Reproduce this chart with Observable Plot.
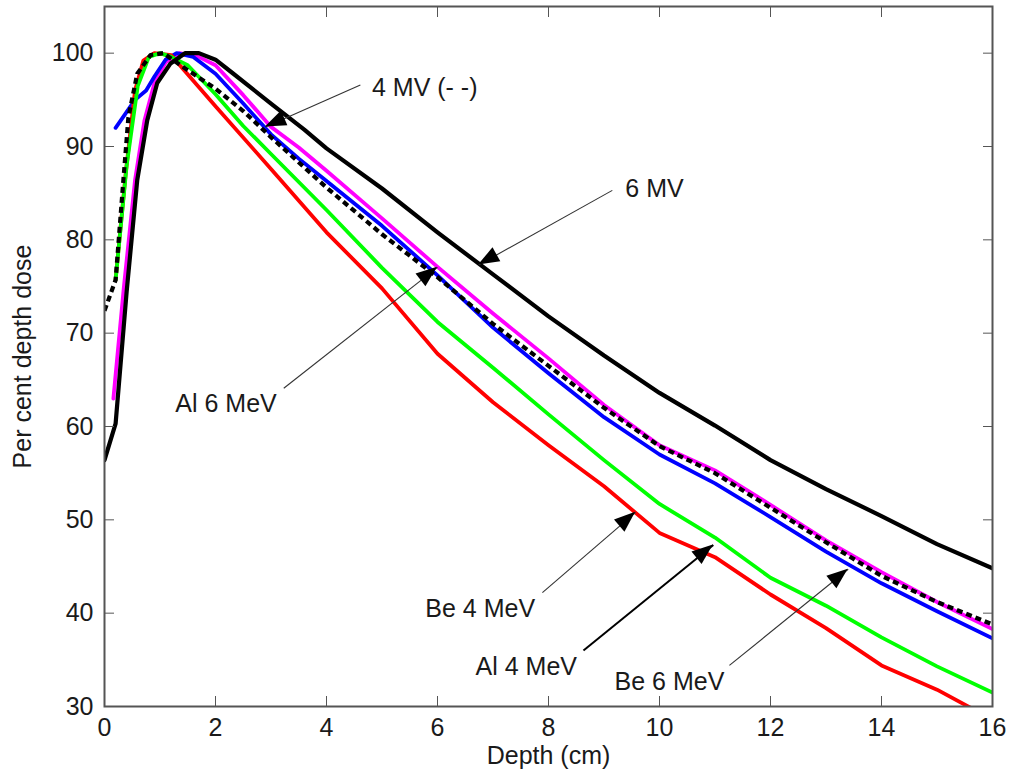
<!DOCTYPE html>
<html>
<head>
<meta charset="utf-8">
<script src="https://cdn.jsdelivr.net/npm/d3@7"></script>
<script src="https://cdn.jsdelivr.net/npm/@observablehq/plot@0.6"></script>
<style>
  body { margin: 0; background: #fff; }
  #chart { width: 1013px; height: 780px; }
</style>
</head>
<body>
<div id="chart"></div>
<script>
// ---- Data ----
const xTicks = [0, 2, 4, 6, 8, 10, 12, 14, 16];
const yTicks = [30, 40, 50, 60, 70, 80, 90, 100];

// Be 4 MeV (red)
const be4Depth = [0.2, 0.38, 0.55, 0.7, 0.9, 1.2, 1.4, 2, 3, 4, 5, 6, 7, 8, 9, 10, 11, 12, 13, 14, 15, 16];
const be4Dose  = [75.7, 87, 96, 99.2, 100, 99.8, 98.4, 94.3, 87.6, 80.8, 74.8, 67.8, 62.6, 58.0, 53.6, 48.6, 46.0, 42.0, 38.4, 34.4, 31.8, 28.6];

// Al 4 MeV (green)
const al4Depth = [0.2, 0.4, 0.6, 0.8, 1.0, 1.2, 1.5, 2, 2.5, 3, 4, 5, 6, 7, 8, 9, 10, 11, 12, 13, 14, 15, 16];
const al4Dose  = [75.7, 88, 96.5, 99.6, 100, 99.6, 98.7, 95.6, 92.2, 89.2, 83.2, 77.0, 71.2, 66.3, 61.3, 56.4, 51.7, 48.1, 43.8, 40.8, 37.4, 34.3, 31.5];

// Be 6 MeV (blue)
const be6Depth = [0.2, 0.55, 0.75, 0.9, 1.1, 1.3, 1.6, 2, 2.5, 3, 3.5, 4, 5, 6, 7, 8, 9, 10, 11, 12, 13, 14, 15, 16];
const be6Dose  = [92, 95, 96, 97.5, 99.3, 100, 99.6, 97.8, 94.6, 91.3, 88.7, 86.3, 81.5, 76.2, 70.6, 65.7, 61.0, 57.0, 53.9, 50.3, 46.6, 43.2, 40.2, 37.3];

// Al 6 MeV (magenta)
const al6Depth = [0.16, 0.35, 0.55, 0.72, 0.9, 1.1, 1.35, 1.7, 2, 2.5, 3, 3.5, 4, 5, 6, 7, 8, 9, 10, 11, 12, 13, 14, 15, 16];
const al6Dose  = [63, 75, 86.4, 92.8, 96.8, 99, 100, 99.6, 98.7, 95.5, 92.1, 89.9, 87.4, 82.3, 77.1, 72.1, 67.3, 62.3, 58.0, 55.3, 51.6, 47.8, 44.4, 41.2, 38.3];

// 6 MV (black solid)
const mv6Depth = [0, 0.2, 0.4, 0.59, 0.77, 0.95, 1.19, 1.45, 1.7, 2, 2.3, 3, 3.6, 4, 5, 6, 7, 8, 9, 10, 11, 12, 13, 14, 15, 16];
const mv6Dose  = [56.4, 60.3, 74.5, 86.4, 92.8, 96.8, 98.9, 100, 100, 99.3, 97.9, 94.6, 91.8, 89.8, 85.5, 80.8, 76.3, 71.8, 67.6, 63.6, 60.1, 56.4, 53.3, 50.4, 47.4, 44.8];

// 4 MV (black dashed)
const mv4Depth = [0, 0.2, 0.34, 0.43, 0.59, 0.83, 1.06, 1.37, 2, 2.5, 3, 4, 5, 6, 7, 8, 9, 10, 11, 12, 13, 14, 15, 16];
const mv4Dose  = [72.4, 75.7, 86.4, 93.1, 97.8, 99.8, 100, 98.7, 96.2, 93.8, 91.0, 85.6, 80.6, 76.0, 71.0, 66.5, 62.0, 57.9, 55.0, 51.3, 47.6, 44.0, 41.2, 38.8];

// Annotations (data coordinates: depth, dose)
const annLabels = ["4 MV (- -)", "6 MV", "Al 6 MeV", "Be 4 MeV", "Al 4 MeV", "Be 6 MeV"];
const annTextX  = [5.77, 9.91, 2.19, 6.77, 7.60, 10.18];
const annTextY  = [96.3, 85.5, 62.4, 40.4, 34.2, 32.6];
const annTailX  = [4.61, 9.15, 3.23, 7.89, 8.63, 11.26];
const annTailY  = [96.6, 85.3, 64.1, 42.2, 36.0, 34.4];
const annTipX   = [2.90, 6.74, 6.00, 9.57, 10.97, 13.40];
const annTipY   = [92.1, 77.3, 77.05, 50.8, 47.3, 44.7];
const annBold   = [false, false, false, false, true, false];

// ---- Build tables ----
const zip = (xs, ys) => xs.map((x, i) => ({depth: x, dose: ys[i]}));
const be4 = zip(be4Depth, be4Dose);
const al4 = zip(al4Depth, al4Dose);
const be6 = zip(be6Depth, be6Dose);
const al6 = zip(al6Depth, al6Dose);
const mv6 = zip(mv6Depth, mv6Dose);
const mv4 = zip(mv4Depth, mv4Dose);
const ann = annLabels.map((t, i) => ({
  text: t, tx: annTextX[i], ty: annTextY[i],
  x1: annTailX[i], y1: annTailY[i], x2: annTipX[i], y2: annTipY[i], bold: annBold[i]
}));

const axisColor = "#555";
const textColor = "#1a1a1a";
const lineOpts = {x: "depth", y: "dose", strokeLinejoin: "round", strokeLinecap: "round", clip: true};

const chart = Plot.plot({
  width: 1013,
  height: 780,
  marginLeft: 104,
  marginRight: 21,
  marginTop: 6,
  marginBottom: 74,
  style: {fontFamily: "'Liberation Sans', Arial, Helvetica, sans-serif", fontSize: "25px", background: "#fff", color: textColor},
  x: {domain: [0, 16]},
  y: {domain: [30, 105]},
  marks: [
    Plot.line(al6, {...lineOpts, stroke: "#ff00ff", strokeWidth: 3.8}),
    Plot.line(be6, {...lineOpts, stroke: "#0000ff", strokeWidth: 3.8}),
    Plot.line(be4, {...lineOpts, stroke: "#ff0000", strokeWidth: 3.8}),
    Plot.line(al4, {...lineOpts, stroke: "#00ff00", strokeWidth: 3.8}),
    Plot.line(mv6, {...lineOpts, stroke: "#000", strokeWidth: 4.2}),
    Plot.line(mv4, {...lineOpts, stroke: "#000", strokeWidth: 4.2, strokeDasharray: "6,4", strokeLinecap: "butt"}),
    Plot.link(ann.filter(d => !d.bold), {x1: "x1", y1: "y1", x2: "x2", y2: "y2", stroke: "#333", strokeWidth: 1.1}),
    Plot.link(ann.filter(d => d.bold), {x1: "x1", y1: "y1", x2: "x2", y2: "y2", stroke: "#000", strokeWidth: 2}),
    Plot.text(ann, {x: "tx", y: "ty", text: "text", fill: textColor, fontSize: 25}),
    Plot.frame({stroke: axisColor, strokeWidth: 2}),
    Plot.axisX(xTicks, {anchor: "bottom", tickSize: -10, tickPadding: 22, color: textColor, stroke: axisColor, label: null, fontSize: 25}),
    Plot.axisX(xTicks, {anchor: "top", tickSize: -10, tickFormat: () => "", stroke: axisColor, label: null}),
    Plot.axisY(yTicks, {anchor: "left", tickSize: -10, tickPadding: 21, color: textColor, stroke: axisColor, label: null, fontSize: 25}),
    Plot.axisY(yTicks, {anchor: "right", tickSize: -10, tickFormat: () => "", stroke: axisColor, label: null}),
    Plot.text(["Depth (cm)"], {frameAnchor: "bottom", dy: 57, textAnchor: "middle", fill: textColor, fontSize: 25}),
    Plot.text(["Per cent depth dose"], {frameAnchor: "left", dx: -82, rotate: -90, textAnchor: "middle", fill: textColor, fontSize: 25})
  ]
});

document.getElementById("chart").appendChild(chart);

// Filled arrowheads, positioned through the plot's own scales
const sx = chart.scale("x"), sy = chart.scale("y");
const svg = d3.select(chart);
const heads = svg.append("g").attr("class", "arrow-heads");
ann.forEach(d => {
  const x1 = sx.apply(d.x1), y1 = sy.apply(d.y1);
  const x2 = sx.apply(d.x2), y2 = sy.apply(d.y2);
  const dx = x2 - x1, dy = y2 - y1, len = Math.hypot(dx, dy);
  const ux = dx / len, uy = dy / len;
  const L = 21, W = 8;
  const bx = x2 - ux * L, by = y2 - uy * L;
  heads.append("path")
    .attr("d", `M${x2},${y2}L${bx - uy * W},${by + ux * W}L${bx + uy * W},${by - ux * W}Z`)
    .attr("fill", "#000");
});
</script>
</body>
</html>
